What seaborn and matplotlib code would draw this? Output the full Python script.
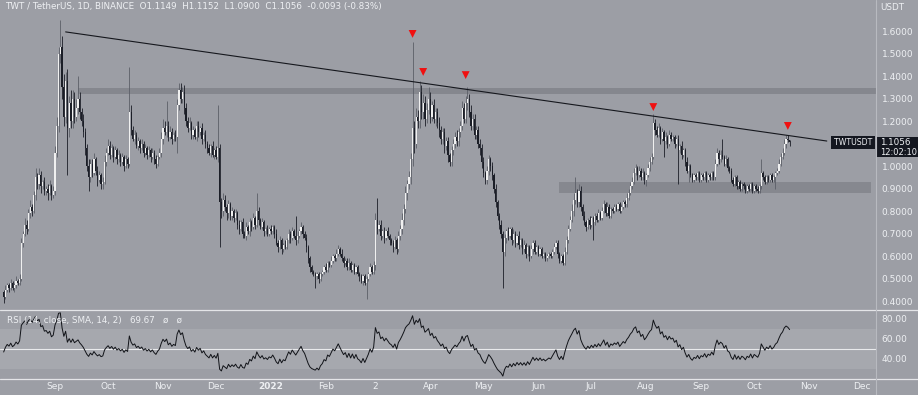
import numpy as np
import pandas as pd
import matplotlib
matplotlib.use("Agg")
import matplotlib.pyplot as plt
from matplotlib.lines import Line2D
from matplotlib.patches import Rectangle
import seaborn as sns

# ---------------- data ----------------
start_date = "2021-08-03"
first_open = 0.44
closes = [
    0.42, 0.45, 0.47, 0.46, 0.48, 0.46, 0.47, 0.49, 0.48, 0.50,
    0.66, 0.70, 0.74, 0.72, 0.79, 0.82, 0.80, 0.87, 0.95, 0.92,
    0.96, 0.91, 0.93, 0.89, 0.90, 0.88, 0.91, 0.87, 0.89, 1.06,
    1.18, 1.50, 1.53, 1.35, 1.22, 1.38, 1.17, 1.28, 1.20, 1.30,
    1.22, 1.26, 1.30, 1.24, 1.20, 1.15, 1.08, 1.00, 0.95, 1.01,
    0.97, 1.03, 0.98, 0.94, 0.96, 0.92, 0.93, 1.02, 1.06, 1.09,
    1.05, 1.08, 1.04, 1.07, 1.03, 1.05, 1.02, 1.04, 1.00, 1.03,
    1.01, 1.24, 1.16, 1.12, 1.14, 1.09, 1.11, 1.08, 1.10, 1.06,
    1.08, 1.05, 1.07, 1.04, 1.06, 1.03, 1.01, 1.04, 1.06, 1.12,
    1.17, 1.15, 1.18, 1.13, 1.15, 1.12, 1.14, 1.13, 1.27, 1.34,
    1.30, 1.33, 1.26, 1.20, 1.17, 1.19, 1.14, 1.16, 1.13, 1.18,
    1.15, 1.17, 1.12, 1.14, 1.10, 1.08, 1.06, 1.09, 1.05, 1.07,
    1.04, 1.08, 0.84, 0.80, 0.85, 0.82, 0.79, 0.83, 0.78, 0.80,
    0.77, 0.79, 0.74, 0.72, 0.75, 0.70, 0.69, 0.73, 0.71, 0.75,
    0.73, 0.77, 0.74, 0.80, 0.76, 0.73, 0.75, 0.71, 0.72, 0.70,
    0.72, 0.71, 0.73, 0.70, 0.66, 0.64, 0.67, 0.63, 0.65, 0.64,
    0.67, 0.70, 0.68, 0.71, 0.69, 0.67, 0.69, 0.71, 0.73, 0.70,
    0.68, 0.64, 0.59, 0.55, 0.53, 0.52, 0.51, 0.52, 0.50, 0.52,
    0.53, 0.55, 0.54, 0.57, 0.56, 0.58, 0.60, 0.59, 0.61, 0.63,
    0.61, 0.59, 0.57, 0.58, 0.55, 0.57, 0.54, 0.56, 0.53, 0.55,
    0.52, 0.51, 0.49, 0.51, 0.48, 0.50, 0.52, 0.55, 0.53, 0.56,
    0.76, 0.72, 0.74, 0.69, 0.71, 0.68, 0.71, 0.69, 0.67, 0.66,
    0.64, 0.67, 0.63, 0.69, 0.72, 0.76, 0.81, 0.88, 0.92, 0.95,
    1.03, 1.17, 1.10, 1.22, 1.20, 1.33, 1.24, 1.28, 1.21, 1.25,
    1.30, 1.22, 1.27, 1.21, 1.24, 1.19, 1.16, 1.12, 1.15, 1.09,
    1.11, 1.05, 1.02, 1.07, 1.10, 1.13, 1.11, 1.15, 1.18, 1.26,
    1.21, 1.28, 1.30, 1.24, 1.18, 1.21, 1.14, 1.16, 1.10, 1.08,
    1.02, 0.97, 0.94, 0.98, 1.03, 1.00, 0.96, 0.90, 0.84, 0.78,
    0.74, 0.70, 0.62, 0.68, 0.71, 0.69, 0.72, 0.67, 0.70, 0.66,
    0.69, 0.65, 0.67, 0.63, 0.65, 0.61, 0.64, 0.60, 0.63, 0.66,
    0.62, 0.64, 0.61, 0.63, 0.60, 0.61, 0.59, 0.60, 0.61, 0.60,
    0.62, 0.64, 0.66, 0.61, 0.58, 0.60, 0.57, 0.62, 0.67, 0.72,
    0.76, 0.80, 0.85, 0.88, 0.84, 0.89, 0.82, 0.78, 0.75, 0.73,
    0.76, 0.74, 0.77, 0.75, 0.78, 0.76, 0.79, 0.77, 0.80, 0.83,
    0.79, 0.82, 0.78, 0.81, 0.80, 0.82, 0.81, 0.83, 0.80, 0.82,
    0.84, 0.83, 0.86, 0.88, 0.91, 0.93, 0.97, 0.99, 0.96, 0.98,
    0.95, 0.97, 0.94, 0.96, 0.99, 1.02, 1.04, 1.19, 1.16, 1.14,
    1.17, 1.12, 1.15, 1.11, 1.13, 1.10, 1.14, 1.12, 1.13, 1.10,
    1.12, 1.07, 1.09, 1.05, 1.07, 1.02, 0.98, 1.00, 0.96, 0.94,
    0.96, 0.95, 0.97, 0.94, 0.96, 0.95, 0.97, 0.94, 0.96, 0.95,
    0.97, 0.95, 1.01, 1.06, 1.03, 1.05, 1.04, 1.01, 1.03, 0.99,
    0.98, 0.94, 0.92, 0.95, 0.91, 0.93, 0.90, 0.92, 0.91, 0.89,
    0.91, 0.90, 0.92, 0.89, 0.91, 0.90, 0.89, 0.91, 0.97, 0.95,
    0.93, 0.95, 0.94, 0.96, 0.94, 0.95, 0.97, 0.98, 1.01, 1.04,
    1.06, 1.10, 1.12, 1.1149, 1.1056,
]
up_wick_cents = [
    1, 2, 1, 1, 2, 1, 1, 2, 1, 2,
    2, 1, 3, 2, 2, 3, 1, 2, 4, 2,
    3, 2, 1, 2, 1, 2, 3, 1, 2, 3,
    4, 3, 12, 5, 6, 4, 5, 3, 6, 4,
    3, 4, 10, 3, 2, 3, 2, 2, 3, 2,
    2, 3, 1, 2, 2, 1, 2, 3, 2, 3,
    2, 2, 1, 2, 1, 2, 1, 2, 1, 2,
    1, 20, 3, 2, 2, 1, 2, 1, 2, 1,
    2, 1, 2, 1, 2, 1, 2, 1, 2, 3,
    4, 3, 11, 2, 3, 2, 1, 2, 3, 3,
    3, 2, 3, 2, 2, 3, 1, 2, 1, 2,
    2, 1, 2, 1, 2, 1, 2, 1, 2, 1,
    2, 19, 2, 2, 3, 2, 1, 2, 1, 2,
    1, 2, 1, 2, 1, 2, 1, 2, 1, 2,
    1, 2, 1, 8, 2, 1, 2, 1, 1, 2,
    1, 2, 1, 1, 2, 1, 2, 1, 1, 2,
    1, 2, 1, 2, 1, 9, 2, 1, 2, 1,
    1, 2, 1, 1, 1, 1, 1, 1, 1, 1,
    1, 1, 2, 1, 1, 2, 1, 1, 2, 2,
    1, 2, 1, 1, 1, 2, 1, 1, 1, 1,
    1, 1, 1, 1, 1, 1, 1, 2, 1, 2,
    3, 10, 2, 2, 1, 2, 1, 2, 1, 1,
    1, 2, 1, 2, 2, 3, 2, 3, 2, 3,
    3, 38, 3, 4, 3, 5, 3, 4, 3, 3,
    5, 3, 2, 3, 2, 2, 3, 2, 2, 2,
    2, 2, 1, 2, 2, 2, 3, 2, 2, 3,
    2, 3, 5, 2, 3, 2, 2, 2, 2, 2,
    2, 2, 1, 2, 2, 1, 2, 1, 2, 1,
    1, 2, 1, 2, 1, 2, 1, 1, 2, 1,
    1, 2, 1, 1, 2, 1, 1, 1, 2, 1,
    1, 1, 1, 1, 1, 1, 1, 1, 1, 1,
    1, 2, 1, 1, 1, 1, 1, 2, 2, 2,
    2, 3, 3, 7, 2, 3, 2, 1, 2, 1,
    1, 2, 1, 1, 1, 1, 2, 1, 2, 2,
    1, 2, 1, 1, 1, 1, 1, 1, 1, 1,
    1, 1, 2, 2, 2, 2, 2, 2, 1, 2,
    1, 2, 1, 1, 2, 2, 2, 4, 2, 2,
    2, 1, 2, 1, 2, 1, 2, 1, 1, 1,
    1, 2, 1, 2, 1, 1, 2, 1, 1, 1,
    1, 1, 1, 1, 1, 1, 1, 1, 1, 1,
    1, 1, 2, 2, 1, 2, 7, 1, 2, 1,
    1, 1, 1, 1, 1, 1, 1, 1, 1, 1,
    1, 1, 1, 1, 1, 1, 1, 1, 6, 1,
    1, 1, 1, 1, 1, 1, 1, 1, 2, 2,
    2, 2, 2, 2, 0.03,
]
down_wick_cents = [
    3, 1, 1, 2, 1, 1, 2, 1, 1, 1,
    1, 2, 1, 2, 1, 2, 2, 1, 2, 2,
    2, 3, 1, 2, 2, 3, 1, 2, 1, 2,
    2, 3, 4, 5, 4, 3, 21, 4, 3, 3,
    3, 2, 3, 3, 2, 2, 3, 2, 6, 2,
    2, 1, 2, 3, 1, 2, 2, 1, 2, 1,
    2, 1, 2, 1, 2, 1, 2, 1, 2, 1,
    2, 1, 2, 1, 2, 1, 2, 2, 1, 2,
    1, 2, 1, 2, 1, 2, 2, 1, 1, 2,
    2, 1, 2, 2, 1, 2, 1, 2, 7, 2,
    2, 2, 3, 2, 2, 1, 2, 2, 1, 2,
    2, 1, 2, 1, 2, 2, 1, 2, 1, 2,
    1, 2, 20, 3, 2, 2, 3, 2, 2, 2,
    2, 1, 2, 2, 1, 2, 1, 2, 1, 2,
    2, 1, 2, 1, 2, 1, 1, 2, 1, 1,
    1, 1, 1, 2, 1, 2, 1, 2, 1, 1,
    1, 1, 2, 1, 1, 2, 1, 1, 1, 2,
    1, 2, 2, 2, 1, 1, 5, 1, 2, 1,
    1, 1, 1, 1, 1, 1, 1, 1, 1, 1,
    1, 1, 2, 1, 1, 1, 1, 1, 1, 1,
    1, 2, 1, 2, 1, 7, 1, 1, 1, 1,
    2, 2, 1, 2, 1, 2, 1, 1, 2, 1,
    2, 1, 2, 1, 2, 2, 2, 2, 3, 2,
    3, 3, 4, 2, 3, 3, 3, 3, 3, 2,
    2, 3, 2, 2, 3, 2, 3, 2, 2, 3,
    2, 3, 2, 2, 2, 2, 2, 2, 2, 2,
    2, 2, 3, 2, 2, 2, 2, 2, 2, 3,
    3, 2, 2, 2, 2, 2, 2, 2, 2, 2,
    2, 2, 16, 2, 2, 2, 1, 2, 1, 2,
    1, 2, 1, 2, 1, 2, 1, 2, 1, 2,
    1, 1, 1, 1, 1, 1, 1, 1, 1, 1,
    1, 1, 1, 2, 1, 1, 1, 1, 1, 1,
    1, 1, 2, 2, 2, 2, 2, 2, 1, 2,
    1, 2, 1, 8, 1, 1, 1, 1, 1, 1,
    1, 1, 1, 1, 1, 1, 1, 1, 1, 1,
    1, 1, 1, 1, 1, 1, 1, 1, 2, 1,
    1, 1, 2, 3, 1, 1, 1, 1, 2, 1,
    1, 2, 1, 7, 1, 2, 1, 1, 1, 2,
    1, 15, 1, 2, 1, 2, 1, 5, 1, 1,
    1, 1, 1, 1, 1, 1, 1, 1, 1, 1,
    1, 1, 1, 1, 2, 1, 1, 1, 1, 1,
    1, 1, 1, 1, 1, 1, 1, 1, 1, 1,
    1, 1, 1, 1, 1, 1, 1, 1, 1, 1,
    1, 1, 1, 1, 1, 1, 5, 1, 1, 1,
    1, 1, 2, 1, 1.56,
]
marker_dates = ["2022-03-22", "2022-03-28", "2022-04-21", "2022-08-05", "2022-10-20"]
marker_prices = [1.587, 1.418, 1.404, 1.262, 1.178]
trend_dates = ["2021-09-07", "2022-11-11"]
trend_prices = [1.596, 1.111]
upper_zone = ("2021-09-14", 1.320, 1.347)
lower_zone = ("2022-06-13", "2022-12-06", 0.880, 0.929)
month_ticks = ["2021-09-01", "2021-10-01", "2021-11-01", "2021-12-01", "2022-01-01",
               "2022-02-01", "2022-03-01", "2022-04-01", "2022-05-01", "2022-06-01",
               "2022-07-01", "2022-08-01", "2022-09-01", "2022-10-01", "2022-11-01",
               "2022-12-01"]
month_labels = ["Sep", "Oct", "Nov", "Dec", "2022", "Feb", "2", "Apr", "May", "Jun",
                "Jul", "Aug", "Sep", "Oct", "Nov", "Dec"]
price_ticks = [0.4, 0.5, 0.6, 0.7, 0.8, 0.9, 1.0, 1.2, 1.3, 1.4, 1.5, 1.6]
rsi_ticks = [40, 60, 80]

# ---------------- frame ----------------
dates = pd.date_range(start_date, periods=len(closes), freq="D")
c = np.array(closes, dtype=float)
o = np.concatenate([[first_open], c[:-1]])
h = np.maximum(o, c) + np.array(up_wick_cents) / 100.0
l = np.minimum(o, c) - np.array(down_wick_cents) / 100.0
df = pd.DataFrame({"date": dates, "open": o, "high": h, "low": l, "close": c})
df["up"] = df["close"] >= df["open"]

# RSI(14), Wilder smoothing, seeded neutral
delta = np.diff(np.concatenate([[first_open], c]))
g_arr = np.clip(delta, 0, None)
l_arr = np.clip(-delta, 0, None)
ag, al = 0.012, 0.012
rsi_vals = []
for gv, lv in zip(g_arr, l_arr):
    ag = (ag * 13 + gv) / 14
    al = (al * 13 + lv) / 14
    rsi_vals.append(100 - 100 / (1 + ag / max(al, 1e-9)))
df["rsi"] = rsi_vals

# ---------------- style ----------------
BG = "#9c9ea5"
TXT = "#eef0f3"
DARK = "#1b1e27"
LIGHT = "#f0f0f0"
sns.set_theme(style="white")
plt.rcParams["font.family"] = ["DejaVu Sans"]

W, H = 918, 395
fig = plt.figure(figsize=(W / 100, H / 100), dpi=100, facecolor=BG)
ax = fig.add_axes([0, 85 / H, 876 / W, 310 / H], facecolor=BG)
ax2 = fig.add_axes([0, 16 / H, 876 / W, 69 / H], facecolor=BG, sharex=ax)

d0 = dates[0]
xmin = d0 - pd.Timedelta(days=2.07)
xmax = d0 + pd.Timedelta(days=492.8)

# zones
ax.fill_between([pd.Timestamp(upper_zone[0]), xmax], upper_zone[1], upper_zone[2],
                color="#85878e", lw=0, zorder=1)
ax.fill_between([pd.Timestamp(lower_zone[0]), pd.Timestamp(lower_zone[1])],
                lower_zone[2], lower_zone[3], color="#86888f", lw=0, zorder=1)

# candles
up = df[df["up"]]
dn = df[~df["up"]]
ax.vlines(up["date"], up["low"], up["high"], color="#5c5f68", lw=0.6, zorder=2)
ax.vlines(dn["date"], dn["low"], dn["high"], color=DARK, lw=0.6, zorder=2)
bw = pd.Timedelta(hours=16)
ax.bar(up["date"], np.maximum(up["close"] - up["open"], 0.003), bottom=up["open"],
       width=bw, color=LIGHT, lw=0, zorder=3)
ax.bar(dn["date"], np.maximum(dn["open"] - dn["close"], 0.003), bottom=dn["close"],
       width=bw, color=DARK, lw=0, zorder=3)

# trend line and markers
sns.lineplot(x=pd.to_datetime(trend_dates), y=trend_prices, ax=ax, color="#15171d",
             lw=0.8, zorder=4)
sns.scatterplot(x=pd.to_datetime(marker_dates), y=marker_prices, ax=ax, marker="v",
                s=32, color="#f01010", edgecolor="none", zorder=5)

ax.set_xlim(xmin, xmax)
ax.set_ylim(0.36, 1.7378)
ax.yaxis.tick_right()
ax.set_yticks(price_ticks)
ax.set_yticklabels([f"{v:.4f}" for v in price_ticks])
ax.tick_params(axis="y", length=0, pad=4, labelsize=6.5, labelcolor=TXT)
ax.tick_params(axis="x", bottom=False, labelbottom=False)
for s in ax.spines.values():
    s.set_visible(False)
ax.set_xlabel("")
ax.set_ylabel("")

# RSI panel
ax2.axhspan(30, 70, color="#a6a8ae", lw=0, zorder=0)
ax2.axhline(50, color="#e9eaec", lw=0.8, zorder=1)
sns.lineplot(data=df, x="date", y="rsi", ax=ax2, color="#111318", lw=0.7, zorder=3)
ax2.set_ylim(20, 89)
ax2.yaxis.tick_right()
ax2.set_yticks(rsi_ticks)
ax2.set_yticklabels([f"{v:.2f}" for v in rsi_ticks])
ax2.tick_params(axis="y", length=0, pad=4, labelsize=6.5, labelcolor=TXT)
ax2.set_xticks(pd.to_datetime(month_ticks))
ax2.set_xticklabels(month_labels)
ax2.tick_params(axis="x", length=0, pad=2, labelsize=6.5, labelcolor=TXT)
for t in ax2.get_xticklabels():
    if t.get_text() == "2022":
        t.set_fontweight("bold")
for s in ax2.spines.values():
    s.set_visible(False)
ax2.set_xlabel("")
ax2.set_ylabel("")
ax2.set_xlim(xmin, xmax)

# separators
for yy in (85 / H, 16 / H):
    fig.add_artist(Line2D([0, 1], [yy, yy], transform=fig.transFigure,
                          color="#e4e5e8", lw=0.9))
fig.add_artist(Line2D([876 / W, 876 / W], [0, 1], transform=fig.transFigure,
                      color="#b8bac0", lw=0.8))

# texts
fig.text(5 / W, 1 - 6 / H,
         "TWT / TetherUS, 1D, BINANCE  O1.1149  H1.1152  L1.0900  C1.1056  -0.0093 (-0.83%)",
         color=TXT, fontsize=6.3, va="center", ha="left")
fig.text(880 / W, 1 - 8 / H, "USDT", color=TXT, fontsize=6.3, va="center", ha="left")
fig.text(7 / W, 1 - 321 / H, "RSI (14, close, SMA, 14, 2)   69.67   ø   ø",
         color=TXT, fontsize=6.3, va="center", ha="left")
fig.text(853 / W, 1 - 142.5 / H, "TWTUSDT", color=TXT, fontsize=5.6, va="center",
         ha="center", bbox=dict(boxstyle="square,pad=0.3", fc="#141720", ec="none"))
fig.add_artist(Rectangle((877 / W, 1 - 157 / H), 41 / W, 20 / H, transform=fig.transFigure,
                         fc="#141720", ec="none"))
fig.text(880 / W, 1 - 142.5 / H, "1.1056", color=TXT, fontsize=6.3, va="center", ha="left")
fig.text(880 / W, 1 - 152 / H, "12:02:10", color=TXT, fontsize=6.0, va="center", ha="left")

fig.savefig("out.png", dpi=100, facecolor=BG)
